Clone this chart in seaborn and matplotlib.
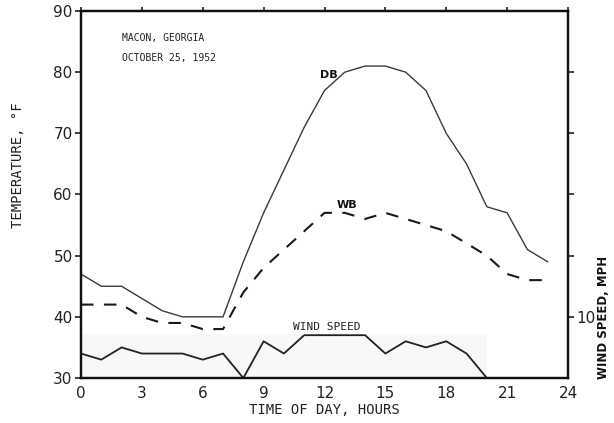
import numpy as np
import pandas as pd
import matplotlib
matplotlib.use("Agg")
import matplotlib.pyplot as plt
import seaborn as sns

# hourly readings, Macon, Georgia, Oct 25 1952
hours = list(range(24))
dry_bulb = [47, 45, 45, 43, 41, 40, 40, 40, 49, 57, 64, 71,
            77, 80, 81, 81, 80, 77, 70, 65, 58, 57, 51, 49]
wet_bulb = [42, 42, 42, 40, 39, 39, 38, 38, 44, 48, 51, 54,
            57, 57, 56, 57, 56, 55, 54, 52, 50, 47, 46, 46]
wind_hours = list(range(22))
wind_mph = [4, 3, 5, 4, 4, 4, 3, 4, 0, 6, 4, 7,
            7, 7, 7, 4, 6, 5, 6, 4, 0, 0]

x_ticks = [0, 3, 6, 9, 12, 15, 18, 21, 24]
y_ticks = [30, 40, 50, 60, 70, 80, 90]
wind_ticks = [10, 20, 30, 40, 50]
wind_ticklabels = ["10", "", "", "", ""]

temps = pd.DataFrame({"hour": hours, "DB": dry_bulb, "WB": wet_bulb})
wind = pd.DataFrame({"hour": wind_hours, "mph": wind_mph})

sns.set_style("white")
plt.rcParams["font.family"] = ["DejaVu Sans"]

fig = plt.figure(figsize=(6.14, 4.23), dpi=100)
ax = fig.add_axes([81 / 614, 45 / 423, 487 / 614, 367 / 423])

# faint grey patch of the scan behind the wind trace
ax.fill_between([0, 20], 30, 37.2, color="#f8f8f8", lw=0, zorder=0)

sns.lineplot(data=temps, x="hour", y="DB", ax=ax, color="#3a3a3a", lw=1.0)
sns.lineplot(data=temps, x="hour", y="WB", ax=ax, color="#1a1a1a", lw=1.5)
ax.lines[-1].set_dashes((6, 5))

ax.set_xlim(0, 24)
ax.set_ylim(30, 90)
ax.set_xticks(x_ticks)
ax.set_yticks(y_ticks)
ax.tick_params(axis="both", direction="out", length=4, width=1.2,
               labelsize=11, colors="#222", pad=2)
ax.tick_params(axis="x", top=True, pad=3, length=3)
for s in ax.spines.values():
    s.set_linewidth(1.6)
    s.set_color("#111")

ax.set_xlabel("TIME OF DAY, HOURS", family="DejaVu Sans Mono", fontsize=10,
              color="#222", labelpad=1)
ax.set_ylabel("TEMPERATURE, °F", family="DejaVu Sans Mono", fontsize=10,
              color="#222")
ax.yaxis.set_label_coords(-0.115, 0.58)

ax2 = ax.twinx()
sns.lineplot(data=wind, x="hour", y="mph", ax=ax2, color="#222", lw=1.3)
ax2.set_ylim(0, 60)
ax2.set_yticks(wind_ticks)
ax2.set_yticklabels(wind_ticklabels)
ax2.tick_params(axis="y", direction="out", length=4, width=1.2,
                labelsize=11, colors="#222", pad=2)
ax2.set_ylabel("WIND SPEED, MPH", fontsize=8.5, fontweight="bold",
               color="#111")
ax2.yaxis.set_label_coords(1.06, 0.165)
for s in ax2.spines.values():
    s.set_linewidth(1.6)
    s.set_color("#111")

mono = dict(family="DejaVu Sans Mono", color="#222")
ax.text(2.0, 85.6, "MACON, GEORGIA", fontsize=7, va="center", **mono)
ax.text(2.0, 82.3, "OCTOBER 25, 1952", fontsize=7, va="center", **mono)
ax.text(11.8, 79.6, "DB", fontsize=8, fontweight="bold", va="center",
        color="#111")
ax.text(12.6, 58.3, "WB", fontsize=8, fontweight="bold", va="center",
        color="#111")
ax.text(10.45, 38.4, "WIND SPEED", fontsize=8, va="center", **mono)

fig.savefig("out.png", dpi=100)
